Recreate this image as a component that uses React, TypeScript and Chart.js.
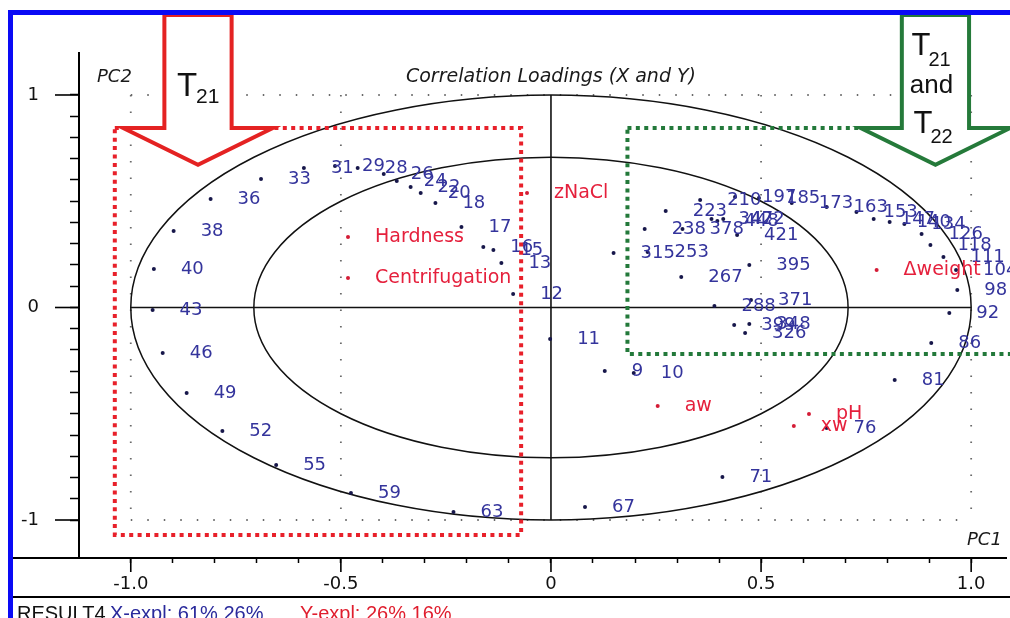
import React, { useEffect, useRef } from 'react';
import { Chart, registerables } from 'chart.js';

Chart.register(...registerables);

// Sample scores on PC1 / PC2 (correlation loadings)
const sampleLabels = [
  '9', '10', '11', '12', '13', '15', '16', '17', '18', '20', '22', '24', '26', '28', '29', '31', '33',
  '36', '38', '40', '43', '46', '49', '52', '55', '59', '63', '67', '71', '76', '81', '86', '92',
  '98', '104', '111', '118', '126', '134', '140', '147', '153', '163', '173', '185', '197', '210',
  '223', '238', '253', '267', '288', '315', '342', '371', '378', '395', '421', '448', '472', '399',
  '348', '326',
];
const sampleX = [
  0.128, 0.197, -0.002, -0.09, -0.118, -0.137, -0.161, -0.213, -0.275, -0.31, -0.334, -0.367, -0.398, -0.46, -0.514, -0.588, -0.69,
  -0.81, -0.898, -0.945, -0.948, -0.924, -0.867, -0.782, -0.654, -0.476, -0.232, 0.081, 0.408, 0.656, 0.818, 0.905, 0.948,
  0.967, 0.964, 0.934, 0.903, 0.882, 0.841, 0.806, 0.768, 0.727, 0.656, 0.573, 0.495, 0.438, 0.355,
  0.273, 0.223, 0.23, 0.31, 0.389, 0.149, 0.382, 0.476, 0.313, 0.472, 0.443, 0.396, 0.41, 0.436,
  0.472, 0.462,
];
const sampleY = [
  -0.299, -0.308, -0.148, 0.064, 0.209, 0.271, 0.285, 0.379, 0.492, 0.539, 0.567, 0.595, 0.628, 0.656, 0.666, 0.656, 0.605,
  0.511, 0.36, 0.181, -0.012, -0.214, -0.402, -0.581, -0.741, -0.873, -0.962, -0.939, -0.798, -0.567, -0.341, -0.167, -0.026,
  0.082, 0.176, 0.238, 0.294, 0.346, 0.393, 0.402, 0.416, 0.449, 0.473, 0.492, 0.515, 0.52, 0.506,
  0.454, 0.369, 0.261, 0.144, 0.007, 0.256, 0.416, 0.035, 0.369, 0.2, 0.341, 0.407, 0.416, -0.082,
  -0.078, -0.12,
];

// Y-variables and design variables
const variableLabels = ['zNaCl', 'Hardness', 'Centrifugation', 'aw', 'pH', 'xw', 'Δweight'];
const variableX = [-0.057, -0.483, -0.483, 0.254, 0.614, 0.578, 0.775];
const variableY = [0.539, 0.332, 0.139, -0.464, -0.501, -0.558, 0.176];

// Axes
const xMajorTicks = [-1, -0.5, 0, 0.5, 1];
const xMajorLabels = ['-1.0', '-0.5', '0', '0.5', '1.0'];
const yMajorTicks = [-1, 0, 1];
const yMajorLabels = ['-1', '0', '1'];
const minorStep = 0.1;
const X_MIN = -1.1232;
const X_MAX = 1.0829;
const Y_MIN = -1.1788;
const Y_MAX = 1.1976;

// Explained-variance circles (100 % and 50 %)
const circleRadii = [1, Math.SQRT1_2];
const dottedGridX = [-1, -0.5, 0.5, 1];
const dottedGridY = [-1, 1];

// Highlighted zones
const redZone = { x0: -1.038, x1: -0.071, y0: -1.07, y1: 0.845 };
const greenZone = { x0: 0.182, x1: 1.2, y0: -0.219, y1: 0.845 };
const arrowTop = 1.376;
const arrowTip = 0.672;
const redArrowX = -0.84;
const greenArrowX = 0.915;
const arrowShaftHalf = 0.08;
const arrowWingHalf = 0.178;

const SAMPLE_BLUE = '#34349c';
const DOT_NAVY = '#17174a';
const VAR_RED = '#e5203c';
const FONT = '"DejaVu Sans", "Liberation Sans", sans-serif';
const ARIAL = '"Liberation Sans", Arial, sans-serif';

function minorTicks(from: number, to: number) {
  const out: { value: number }[] = [];
  for (let v = from; v <= to + 1e-9; v += minorStep) out.push({ value: Math.round(v * 10) / 10 });
  return out;
}

function labelFor(v: number, ticks: number[], labels: string[]) {
  const k = ticks.findIndex((t) => Math.abs(t - v) < 1e-6);
  return k >= 0 ? labels[k] : '';
}

const overlayPlugin = {
  id: 'loadingsOverlay',
  beforeDatasetsDraw(chart: any) {
    const { ctx } = chart;
    const sx = chart.scales.x;
    const sy = chart.scales.y;
    const px = (v: number) => sx.getPixelForValue(v);
    const py = (v: number) => sy.getPixelForValue(v);
    const seg = (x1: number, y1: number, x2: number, y2: number) => {
      ctx.beginPath();
      ctx.moveTo(x1, y1);
      ctx.lineTo(x2, y2);
      ctx.stroke();
    };
    ctx.save();
    // dotted reference lines
    ctx.strokeStyle = '#6a6a6a';
    ctx.lineWidth = 1.8;
    ctx.setLineDash([1.5, 15]);
    dottedGridX.forEach((v) => seg(px(v), py(1), px(v), py(-1)));
    dottedGridY.forEach((v) => seg(px(-1), py(v), px(1), py(v)));
    ctx.setLineDash([]);
    // circles
    ctx.strokeStyle = '#111';
    ctx.lineWidth = 1.5;
    circleRadii.forEach((r) => {
      ctx.beginPath();
      ctx.ellipse(px(0), py(0), px(r) - px(0), py(0) - py(r), 0, 0, Math.PI * 2);
      ctx.stroke();
    });
    // cross through the origin
    ctx.lineWidth = 1.6;
    seg(px(-1), py(0), px(1), py(0));
    seg(px(0), py(1), px(0), py(-1));
    ctx.restore();
  },
  afterDatasetsDraw(chart: any) {
    const { ctx } = chart;
    ctx.save();
    ctx.textBaseline = 'middle';
    ctx.textAlign = 'left';
    ctx.font = `18px ${FONT}`;
    ctx.fillStyle = SAMPLE_BLUE;
    chart.getDatasetMeta(0).data.forEach((pt: any, i: number) => {
      ctx.fillText(sampleLabels[i], pt.x + 27, pt.y);
    });
    ctx.font = `19px ${FONT}`;
    ctx.fillStyle = VAR_RED;
    chart.getDatasetMeta(1).data.forEach((pt: any, i: number) => {
      ctx.fillText(variableLabels[i], pt.x + 27, pt.y);
    });
    ctx.restore();
  },
  afterDraw(chart: any) {
    const { ctx } = chart;
    const sx = chart.scales.x;
    const sy = chart.scales.y;
    const px = (v: number) => sx.getPixelForValue(v);
    const py = (v: number) => sy.getPixelForValue(v);
    const area = chart.chartArea;
    ctx.save();

    // major tick marks (longer than the minor ones drawn by the axes)
    ctx.strokeStyle = '#000';
    ctx.lineWidth = 1.6;
    xMajorTicks.forEach((v) => {
      ctx.beginPath();
      ctx.moveTo(px(v), area.bottom);
      ctx.lineTo(px(v), area.bottom + 14);
      ctx.stroke();
    });
    yMajorTicks.forEach((v) => {
      ctx.beginPath();
      ctx.moveTo(area.left - 24, py(v));
      ctx.lineTo(area.left, py(v));
      ctx.stroke();
    });

    // panel lines
    ctx.lineWidth = 2;
    ctx.beginPath();
    ctx.moveTo(13, area.bottom);
    ctx.lineTo(area.left, area.bottom);
    ctx.stroke();
    ctx.beginPath();
    ctx.moveTo(13, 597);
    ctx.lineTo(chart.width, 597);
    ctx.stroke();

    // highlighted zones
    const zone = (z: any, color: string) => {
      ctx.strokeStyle = color;
      ctx.lineWidth = 4;
      ctx.setLineDash([4, 4.4]);
      ctx.strokeRect(px(z.x0), py(z.y1), px(z.x1) - px(z.x0), py(z.y0) - py(z.y1));
      ctx.setLineDash([]);
    };
    zone(redZone, '#e8202a');
    zone(greenZone, '#23793a');

    // down arrows
    const arrow = (cx: number, color: string) => {
      const c = px(cx);
      const sh = px(cx + arrowShaftHalf) - c;
      const wh = px(cx + arrowWingHalf) - c;
      const top = py(arrowTop);
      const shoulder = py(redZone.y1);
      const tip = py(arrowTip);
      ctx.beginPath();
      ctx.moveTo(c - sh, top);
      ctx.lineTo(c + sh, top);
      ctx.lineTo(c + sh, shoulder);
      ctx.lineTo(c + wh, shoulder);
      ctx.lineTo(c, tip);
      ctx.lineTo(c - wh, shoulder);
      ctx.lineTo(c - sh, shoulder);
      ctx.closePath();
      ctx.fillStyle = '#fff';
      ctx.fill();
      ctx.strokeStyle = color;
      ctx.lineWidth = 4;
      ctx.lineJoin = 'miter';
      ctx.stroke();
      return c;
    };
    const rc = arrow(redArrowX, '#e42222');
    const gc = arrow(greenArrowX, '#257a3a');

    ctx.fillStyle = '#111';
    ctx.textAlign = 'left';
    ctx.textBaseline = 'alphabetic';
    ctx.font = `33px ${ARIAL}`;
    ctx.fillText('T', rc - 21, 96);
    ctx.font = `21px ${ARIAL}`;
    ctx.fillText('21', rc - 2, 103);

    ctx.font = `31px ${ARIAL}`;
    ctx.fillText('T', gc - 24, 55);
    ctx.font = `20px ${ARIAL}`;
    ctx.fillText('21', gc - 7, 66);
    ctx.font = `26px ${ARIAL}`;
    ctx.textAlign = 'center';
    ctx.fillText('and', gc - 4, 93);
    ctx.textAlign = 'left';
    ctx.font = `31px ${ARIAL}`;
    ctx.fillText('T', gc - 22, 133);
    ctx.font = `20px ${ARIAL}`;
    ctx.fillText('22', gc - 5, 143);

    // titles
    ctx.fillStyle = '#1a1a1a';
    ctx.font = `italic 19px ${FONT}`;
    ctx.textAlign = 'center';
    ctx.fillText('Correlation Loadings (X and Y)', px(0), 82);
    ctx.font = `italic 18px ${FONT}`;
    ctx.textAlign = 'left';
    ctx.fillText('PC2', 97, 82);
    ctx.fillText('PC1', 967, 545);

    // result line
    ctx.font = `20px ${ARIAL}`;
    ctx.fillStyle = '#111';
    ctx.fillText('RESULT4', 17, 620);
    ctx.fillStyle = '#2a2a9c';
    ctx.fillText('X-expl: 61% 26%', 110, 620);
    ctx.fillStyle = '#e01e2e';
    ctx.fillText('Y-expl: 26% 16%', 300, 620);

    // frame
    ctx.fillStyle = '#0a0af5';
    ctx.fillRect(8, 10, chart.width - 8, 5);
    ctx.fillRect(8, 10, 5, chart.height - 10);
    ctx.restore();
  },
};

export default function App() {
  const canvasRef = useRef<HTMLCanvasElement>(null);

  useEffect(() => {
    document.body.style.margin = '0';
    const canvas = canvasRef.current;
    if (!canvas) return;
    const chart = new Chart(canvas, {
      type: 'scatter',
      data: {
        datasets: [
          {
            label: 'Samples',
            data: sampleX.map((x, i) => ({ x, y: sampleY[i] })),
            pointRadius: 2,
            pointBackgroundColor: DOT_NAVY,
            pointBorderWidth: 0,
          },
          {
            label: 'Variables',
            data: variableX.map((x, i) => ({ x, y: variableY[i] })),
            pointRadius: 2,
            pointBackgroundColor: '#d41c36',
            pointBorderWidth: 0,
          },
        ],
      },
      options: {
        responsive: false,
        animation: false,
        devicePixelRatio: 1,
        layout: { padding: { top: 53, left: 0, right: 0, bottom: 0 } },
        plugins: { legend: { display: false }, tooltip: { enabled: false }, title: { display: false } },
        scales: {
          x: {
            type: 'linear',
            position: 'bottom',
            min: X_MIN,
            max: X_MAX,
            afterFit: (s: any) => {
              s.height = 60;
            },
            afterBuildTicks: (s: any) => {
              s.ticks = minorTicks(-1, 1);
            },
            grid: { drawOnChartArea: false, drawTicks: true, tickLength: 5, tickColor: '#000', tickWidth: 1.5 },
            border: { display: true, color: '#000', width: 2 },
            ticks: {
              autoSkip: false,
              maxRotation: 0,
              padding: 11,
              color: '#111',
              font: { family: FONT, size: 18 },
              callback: (v: any) => labelFor(Number(v), xMajorTicks, xMajorLabels),
            },
          },
          y: {
            type: 'linear',
            position: 'left',
            min: Y_MIN,
            max: Y_MAX,
            afterFit: (s: any) => {
              s.width = 79;
            },
            afterBuildTicks: (s: any) => {
              s.ticks = minorTicks(-1, 1);
            },
            grid: { drawOnChartArea: false, drawTicks: true, tickLength: 9, tickColor: '#000', tickWidth: 1.5 },
            border: { display: true, color: '#000', width: 2 },
            ticks: {
              autoSkip: false,
              padding: 31,
              color: '#111',
              font: { family: FONT, size: 18 },
              callback: (v: any) => labelFor(Number(v), yMajorTicks, yMajorLabels),
            },
          },
        },
      },
      plugins: [overlayPlugin],
    });
    return () => chart.destroy();
  }, []);

  return (
    <div style={{ width: 1010, height: 618, background: '#fff' }}>
      <canvas ref={canvasRef} width={1010} height={618} style={{ display: 'block' }} />
    </div>
  );
}
